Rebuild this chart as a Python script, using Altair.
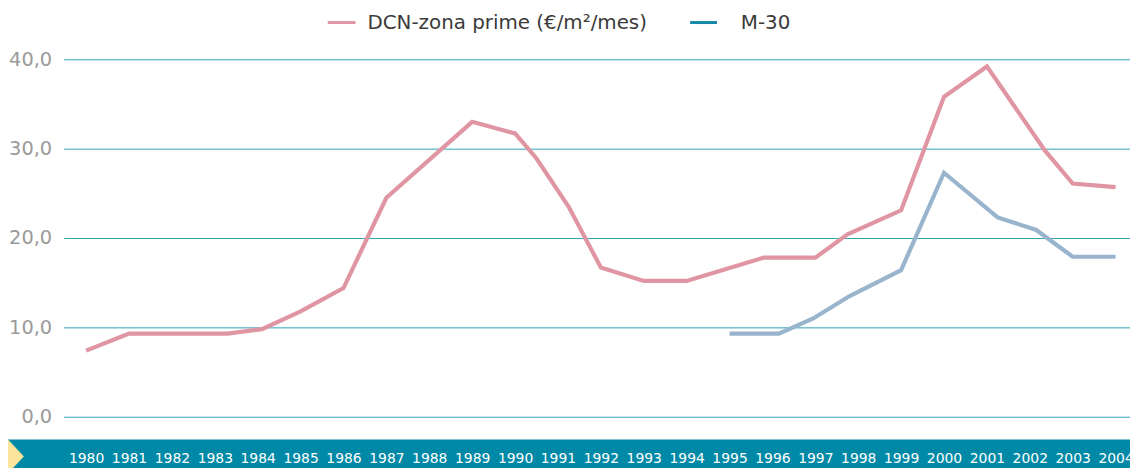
import altair as alt
import pandas as pd

# ---- data ----
dcn_years = [1980, 1981, 1983.3, 1984.1, 1985, 1986, 1987, 1989, 1990, 1990.5,
             1991.25, 1992, 1993, 1994, 1995.8, 1997, 1997.75, 1999, 2000,
             2001, 2002.35, 2003, 2004]
dcn_values = [7.4, 9.3, 9.3, 9.8, 11.8, 14.4, 24.5, 33.0, 31.7, 28.9,
              23.5, 16.7, 15.2, 15.2, 17.8, 17.8, 20.4, 23.1, 35.8,
              39.2, 29.8, 26.1, 25.7]

m30_years = [1995, 1996.15, 1996.95, 1997.8, 1999, 2000, 2001.25, 2002.15, 2003, 2004]
m30_values = [9.3, 9.3, 11.0, 13.5, 16.4, 27.3, 22.3, 20.9, 17.9, 17.9]

series_names = ["DCN", "M-30"]
legend_labels = ["DCN-zona prime (€/m²/mes)", "M-30"]
tick_years = list(range(1980, 2005))
y_ticks = [0, 10, 20, 30, 40]

line_colors = ["#e095a3", "#98b5cd"]
legend_colors = ["#e095a3", "#1688a8"]
TEAL = "#0089a6"
GRID = "#2ea3b8"

df = pd.concat([
    pd.DataFrame({"year": dcn_years, "value": dcn_values, "series": series_names[0]}),
    pd.DataFrame({"year": m30_years, "value": m30_values, "series": series_names[1]}),
])

one = pd.DataFrame({"k": [0]})

W, H = 1074, 360

x_scale = alt.Scale(domain=[1979.475, 2004.336], nice=False, zero=False)
y_scale = alt.Scale(domain=[0, 40], nice=False)

# teal band behind the year labels
band = alt.Chart(one).mark_rect(color=TEAL).encode(
    x=alt.value(-56), x2=alt.value(W), y=alt.value(383), y2=alt.value(414)
)

tri = alt.Chart(one).mark_point(
    shape="M -0.47 -1 L 0.47 0 L -0.47 1 Z", filled=True, color="#fde49c",
    opacity=1, size=1156, strokeWidth=0
).encode(x=alt.value(-48), y=alt.value(400))

lines = alt.Chart(df).mark_line(strokeWidth=4.2, strokeJoin="miter").encode(
    x=alt.X("year:Q", scale=x_scale,
            axis=alt.Axis(values=tick_years, format="d", title=None, domain=False,
                          ticks=False, grid=False, labelColor="white",
                          labelFont="DejaVu Sans", labelFontSize=14,
                          labelPadding=35, labelFlush=False, labelOverlap=False,
                          labelBound=False, zindex=1)),
    y=alt.Y("value:Q", scale=y_scale,
            axis=alt.Axis(values=y_ticks, title=None, domain=False, ticks=False,
                          grid=True, gridColor=GRID, gridWidth=1,
                          labelExpr="replace(format(datum.value, '.1f'), '.', ',')",
                          labelColor="#9a9a9a", labelFont="DejaVu Sans",
                          labelFontSize=19.5, labelPadding=12)),
    color=alt.Color("series:N", scale=alt.Scale(domain=series_names, range=line_colors),
                    legend=None),
)

leg1_sym = alt.Chart(one).mark_rule(color=legend_colors[0], strokeWidth=3).encode(
    x=alt.value(266), x2=alt.value(294), y=alt.value(-37))
leg1_txt = alt.Chart(one).mark_text(align="left", baseline="middle", font="DejaVu Sans",
                                    fontSize=20, color="#3a3a3a").encode(
    x=alt.value(306), y=alt.value(-36), text=alt.value(legend_labels[0]))
leg2_sym = alt.Chart(one).mark_rule(color=legend_colors[1], strokeWidth=3).encode(
    x=alt.value(631), x2=alt.value(658), y=alt.value(-37))
leg2_txt = alt.Chart(one).mark_text(align="left", baseline="middle", font="DejaVu Sans",
                                    fontSize=20, color="#3a3a3a").encode(
    x=alt.value(682), y=alt.value(-36), text=alt.value(legend_labels[1]))

chart = alt.layer(band, tri, lines, leg1_sym, leg1_txt, leg2_sym, leg2_txt).properties(
    width=W, height=H,
    autosize=alt.AutoSizeParams(type="none"),
    padding={"left": 56, "top": 50, "right": 0, "bottom": 52},
).configure_view(stroke=None)

chart.save("out.html", embed_options={"renderer": "svg", "actions": False})
